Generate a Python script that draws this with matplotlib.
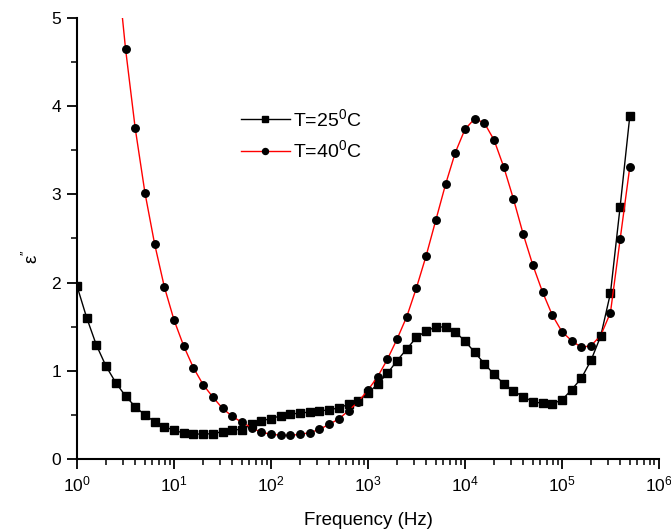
import numpy as np
import matplotlib
matplotlib.use("Agg")
import matplotlib.pyplot as plt
from matplotlib.ticker import LogLocator, MultipleLocator

plt.rcParams['font.family'] = ['Liberation Sans', 'DejaVu Sans']
plt.rcParams['mathtext.default'] = 'regular'

# frequencies, 10 points per decade (log10 values)
logf_25 = np.round(np.arange(0.0, 5.71, 0.1), 1)
eps_25 = [1.96, 1.60, 1.29, 1.05, 0.865, 0.714, 0.593, 0.499, 0.423, 0.367,
          0.325, 0.295, 0.283, 0.283, 0.287, 0.31, 0.333, 0.333, 0.393, 0.434,
          0.457, 0.491, 0.51, 0.52, 0.533, 0.544, 0.558, 0.58, 0.62, 0.658,
          0.745, 0.85, 0.971, 1.115, 1.247, 1.38, 1.451, 1.497, 1.497, 1.44,
          1.338, 1.21, 1.081, 0.96, 0.854, 0.771, 0.707, 0.65, 0.631, 0.627,
          0.669, 0.786, 0.915, 1.119, 1.394, 1.879, 2.86, 3.89]

logf_40 = np.round(np.arange(0.3, 5.71, 0.1), 1)
eps_40 = [6.9, 5.75, 4.652, 3.749, 3.02, 2.438, 1.953, 1.576, 1.281, 1.035,
          0.843, 0.703, 0.574, 0.484, 0.416, 0.355, 0.302, 0.283, 0.268, 0.268,
          0.28, 0.298, 0.336, 0.393, 0.455, 0.548, 0.65, 0.782, 0.933, 1.13,
          1.36, 1.614, 1.942, 2.305, 2.71, 3.114, 3.473, 3.738, 3.858, 3.81,
          3.617, 3.311, 2.948, 2.551, 2.198, 1.893, 1.633, 1.443, 1.341, 1.266,
          1.285, 1.40, 1.659, 2.49, 3.314]

freq_25 = 10.0 ** logf_25
freq_40 = 10.0 ** logf_40

fig = plt.figure(figsize=(6.71, 5.32), dpi=100)
ax = fig.add_axes([0.1148, 0.1372, 0.8672, 0.829])

ax.plot(freq_25, eps_25, color='black', lw=1.0, marker='s', ms=5.2,
        mfc='black', mec='black', label='T=25$^0$C')
ax.plot(freq_40, eps_40, color='red', lw=1.0, marker='o', ms=5.4,
        mfc='black', mec='black', label='T=40$^0$C')

ax.set_xscale('log')
ax.set_xlim(1, 1e6)
ax.set_ylim(0, 5)

ax.xaxis.set_major_locator(LogLocator(base=10, numticks=10))
ax.xaxis.set_minor_locator(LogLocator(base=10, subs=np.arange(2, 10), numticks=20))
ax.yaxis.set_major_locator(MultipleLocator(1))
ax.yaxis.set_minor_locator(MultipleLocator(0.5))

for s in ['top', 'right']:
    ax.spines[s].set_visible(False)
for s in ['left', 'bottom']:
    ax.spines[s].set_linewidth(1.5)

ax.tick_params(which='major', direction='out', length=7.5, width=1.3, labelsize=12.5, pad=4)
ax.tick_params(which='minor', direction='out', length=4.5, width=1.1)

ax.set_xlabel('Frequency (Hz)', fontsize=13.5, labelpad=12)
ax.set_ylabel(r"ε$^{\prime\prime}$", fontsize=13.5)
ax.yaxis.set_label_coords(-0.06, 0.46)

ax.legend(loc='upper left', bbox_to_anchor=(0.282, 0.796), frameon=False,
          fontsize=14, handlelength=2.5, handletextpad=0.15, labelspacing=0.5,
          markerscale=0.8, borderaxespad=0, borderpad=0)

fig.savefig('out.png', dpi=100)
